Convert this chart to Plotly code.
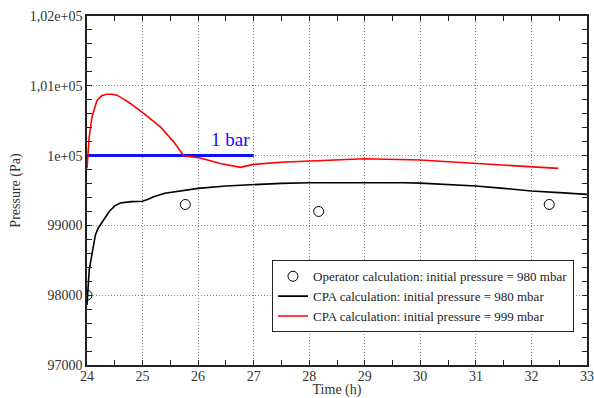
import plotly.graph_objects as go

# Operator calculation (initial pressure 980 mbar)
op_time = [24.0, 25.77, 28.17, 32.32]
op_pressure = [98000, 99300, 99200, 99300]

# CPA calculation, initial pressure 980 mbar
cpa980_time = [24.0, 24.02, 24.04, 24.07, 24.1, 24.15, 24.2, 24.3, 24.4, 24.5, 24.6, 24.8, 25.0,
               25.1, 25.2, 25.4, 25.7, 26.0, 26.5, 27.0, 27.5, 28.0, 29.0, 29.7, 30.0, 30.5,
               31.0, 31.5, 32.0, 32.5, 33.0]
cpa980_pressure = [97860, 98100, 98360, 98500, 98640, 98860, 98960, 99090, 99200, 99280, 99320,
                   99340, 99345, 99375, 99410, 99460, 99500, 99530, 99565, 99588, 99602, 99612,
                   99615, 99612, 99605, 99588, 99564, 99530, 99493, 99470, 99445]

# CPA calculation, initial pressure 999 mbar
cpa999_time = [24.0, 24.02, 24.04, 24.09, 24.18, 24.27, 24.36, 24.45, 24.54, 24.66, 24.78,
               25.02, 25.32, 25.56, 25.74, 26.04, 26.4, 26.76, 27.0, 27.48, 28.02, 29.0, 30.0,
               31.02, 32.03, 32.48]
cpa999_pressure = [99820, 100100, 100270, 100555, 100790, 100860, 100880, 100878, 100866,
                   100810, 100747, 100604, 100412, 100197, 99997, 99965, 99888, 99831, 99874,
                   99905, 99926, 99955, 99936, 99888, 99840, 99817]

# 1 bar reference
bar_time = [24.0, 27.0]
bar_pressure = [100000, 100000]

x_ticks = [24, 25, 26, 27, 28, 29, 30, 31, 32, 33]
y_ticks = [97000, 98000, 99000, 100000, 101000, 102000]
y_ticklabels = ["97000", "98000", "99000", "1e+05", "1,01e+05", "1,02e+05"]

FONT = "Liberation Serif"

fig = go.Figure()
fig.add_trace(go.Scatter(x=bar_time, y=bar_pressure, mode="lines",
                         line=dict(color="#1010ff", width=3), showlegend=False))
fig.add_trace(go.Scatter(x=op_time, y=op_pressure, mode="markers",
                         marker=dict(symbol="circle-open", size=10, color="black",
                                     line=dict(width=1, color="black")),
                         name="Operator calculation: initial pressure = 980 mbar"))
fig.add_trace(go.Scatter(x=cpa980_time, y=cpa980_pressure, mode="lines",
                         line=dict(color="black", width=1.6),
                         name="CPA calculation: initial pressure = 980 mbar"))
fig.add_trace(go.Scatter(x=cpa999_time, y=cpa999_pressure, mode="lines",
                         line=dict(color="#ff0000", width=1.6),
                         name="CPA calculation: initial pressure = 999 mbar"))

fig.add_annotation(x=26.58, y=100230, text="1 bar", showarrow=False,
                   font=dict(family=FONT, size=19, color="#1010ff"))

axis_common = dict(showline=True, linecolor="#222", linewidth=1.5, mirror="allticks",
                   showgrid=True, gridcolor="#888", griddash="1px,2px", gridwidth=1,
                   ticks="inside", ticklen=1, tickcolor="#222", zeroline=False,
                   automargin=False, ticklabeloverflow="allow",
                   tickfont=dict(family=FONT, size=14, color="#333"))

fig.update_xaxes(range=[24, 33], tickvals=x_ticks, ticklabelstandoff=-3,
                 minor=dict(dtick=0.5, ticks="inside", ticklen=5, tickcolor="#222",
                            tickwidth=1.2, showgrid=False),
                 title=dict(text="Time (h)", font=dict(family=FONT, size=14, color="#333"),
                            standoff=0),
                 **axis_common)
fig.update_yaxes(range=[97000, 102000], tickvals=y_ticks, ticktext=y_ticklabels,
                 minor=dict(dtick=200, ticks="inside", ticklen=5, tickcolor="#222",
                            tickwidth=1.2, showgrid=False),
                 title=dict(text="Pressure (Pa)", font=dict(family=FONT, size=14, color="#333"),
                            standoff=6),
                 **axis_common)

fig.update_layout(width=594, height=398, margin=dict(l=87, r=7, t=16, b=33),
                  plot_bgcolor="white", paper_bgcolor="white",
                  legend=dict(x=0.37, y=0.3, xanchor="left", yanchor="top",
                              bgcolor="white", bordercolor="#222", borderwidth=1,
                              font=dict(family=FONT, size=13, color="#222"),
                              tracegroupgap=0))
fig.write_html("out.html")
